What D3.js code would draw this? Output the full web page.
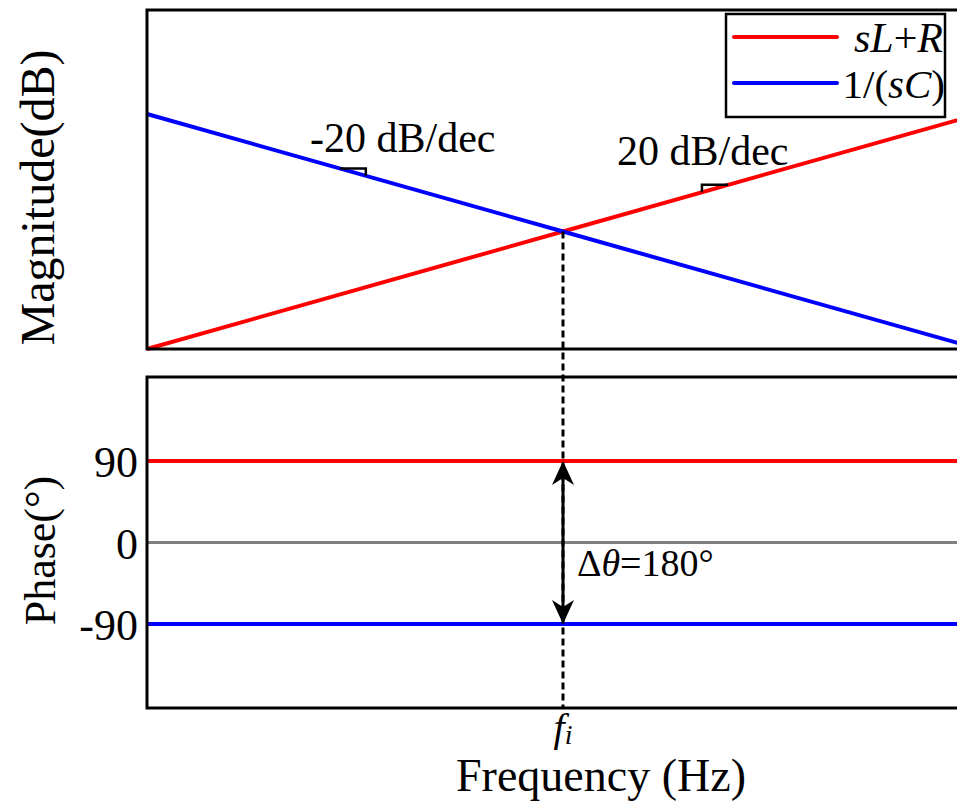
<!DOCTYPE html>
<html>
<head>
<meta charset="utf-8">
<script src="https://cdn.jsdelivr.net/npm/d3@7"></script>
<style>
  body { margin: 0; background: #fff; }
  svg { display: block; font-family: "Liberation Serif", "Times New Roman", serif; }
</style>
</head>
<body>
<svg width="957" height="808"></svg>
<script>
// frequency relative to the crossing frequency f_i
const freqs = [0.1, 1, 10];
const magRL = [-20, 0, 20];   // sL+R, dB
const magC = [20, 0, -20];    // 1/(sC), dB
const phaseRL = [90, 90, 90];
const phaseC = [-90, -90, -90];
const phaseZero = [0, 0, 0];
const phaseTicks = [90, 0, -90];
const seriesNames = ["sL+R", "1/(sC)"];
const seriesColors = ["#ff0000", "#0000ff"];

const svg = d3.select("svg");
const width = +svg.attr("width");
const height = +svg.attr("height");

const left = 147;
const right = 979; // plot runs past the window edge
const magTop = 10, magBottom = 349;
const phTop = 377, phBottom = 708;

const x = d3.scaleLog().domain([0.1, 10]).range([left, right]);
const yMag = d3.scaleLinear().domain([-20, 37.7]).range([magBottom, magTop]);
const yPh = d3.scaleLinear().domain([-183, 183]).range([phBottom, phTop]);

const line = (yScale) => d3.line()
  .x((d) => x(d[0]))
  .y((d) => yScale(d[1]));

// ---- magnitude panel
const mag = svg.append("g");

mag.append("path")
  .datum(d3.zip(freqs, magRL))
  .attr("fill", "none")
  .attr("stroke", seriesColors[0])
  .attr("stroke-width", 4)
  .attr("d", line(yMag));

mag.append("path")
  .datum(d3.zip(freqs, magC))
  .attr("fill", "none")
  .attr("stroke", seriesColors[1])
  .attr("stroke-width", 4)
  .attr("d", line(yMag));

// slope marks
const slopeAt = (f, vals) => {
  const s = d3.scaleLog().domain([freqs[0], freqs[2]]).range([vals[0], vals[2]]);
  return s(f);
};
// blue: horizontal then down on the right
const b0 = Math.pow(10, -0.536), b1 = Math.pow(10, -0.474);
mag.append("path")
  .attr("fill", "none").attr("stroke", "#000").attr("stroke-width", 2.5)
  .attr("d", `M${x(b0)},${yMag(slopeAt(b0, magC))}H${x(b1)}V${yMag(slopeAt(b1, magC))}`);
// red: up on the left then horizontal
const r0 = Math.pow(10, 0.334), r1 = Math.pow(10, 0.397);
mag.append("path")
  .attr("fill", "none").attr("stroke", "#000").attr("stroke-width", 2.5)
  .attr("d", `M${x(r0)},${yMag(slopeAt(r0, magRL))}V${yMag(slopeAt(r1, magRL))}H${x(r1)}`);

mag.append("text").attr("x", 310).attr("y", 152)
  .attr("font-size", 42).text("-20 dB/dec");
mag.append("text").attr("x", 617).attr("y", 165)
  .attr("font-size", 42).text("20 dB/dec");

mag.append("rect")
  .attr("x", left).attr("y", magTop)
  .attr("width", right - left).attr("height", magBottom - magTop)
  .attr("fill", "none").attr("stroke", "#000").attr("stroke-width", 3);

// legend
const leg = svg.append("g");
leg.append("rect").attr("x", 726).attr("y", 14).attr("width", 219).attr("height", 103)
  .attr("fill", "#fff").attr("stroke", "#000").attr("stroke-width", 2.5);
seriesNames.forEach((n, i) => {
  const yy = 37 + i * 46;
  leg.append("line").attr("x1", 734).attr("x2", 837).attr("y1", yy).attr("y2", yy)
    .attr("stroke", seriesColors[i]).attr("stroke-width", 4).attr("stroke-linecap", "round");
});
const t1 = leg.append("text").attr("x", 943).attr("y", 52).attr("text-anchor", "end").attr("font-size", 42);
t1.append("tspan").attr("font-style", "italic").text("sL");
t1.append("tspan").text("+");
t1.append("tspan").attr("font-style", "italic").text("R");
const t2 = leg.append("text").attr("x", 945).attr("y", 98).attr("text-anchor", "end").attr("font-size", 41);
t2.append("tspan").text("1/(");
t2.append("tspan").attr("font-style", "italic").text("sC");
t2.append("tspan").text(")");

svg.append("text")
  .attr("transform", `translate(54,${(magTop + magBottom) / 2 + 18}) rotate(-90)`)
  .attr("text-anchor", "middle").attr("font-size", 48).text("Magnitude(dB)");

// ---- phase panel
const ph = svg.append("g");
ph.append("path").datum(d3.zip(freqs, phaseZero))
  .attr("fill", "none").attr("stroke", "#808080").attr("stroke-width", 3)
  .attr("d", line(yPh));
ph.append("path").datum(d3.zip(freqs, phaseRL))
  .attr("fill", "none").attr("stroke", seriesColors[0]).attr("stroke-width", 4)
  .attr("d", line(yPh));
ph.append("path").datum(d3.zip(freqs, phaseC))
  .attr("fill", "none").attr("stroke", seriesColors[1]).attr("stroke-width", 4)
  .attr("d", line(yPh));

ph.selectAll("text.tick").data(phaseTicks).enter().append("text")
  .attr("class", "tick")
  .attr("x", 138).attr("y", (d) => yPh(d) + 16)
  .attr("text-anchor", "end").attr("font-size", 44)
  .text((d) => d);

ph.append("rect")
  .attr("x", left).attr("y", phTop)
  .attr("width", right - left).attr("height", phBottom - phTop)
  .attr("fill", "none").attr("stroke", "#000").attr("stroke-width", 3);

svg.append("text")
  .attr("transform", `translate(55,${(phTop + phBottom) / 2 + 8}) rotate(-90)`)
  .attr("text-anchor", "middle").attr("font-size", 44).text("Phase(°)");

// ---- crossing frequency marker
const fi = freqs[1];
svg.append("line")
  .attr("x1", x(fi)).attr("x2", x(fi))
  .attr("y1", yMag(magRL[1])).attr("y2", phBottom)
  .attr("stroke", "#000").attr("stroke-width", 3).attr("stroke-dasharray", "7,4");

// double arrow between the two phase lines
const ax = x(fi);
const yA = yPh(phaseRL[1]), yB = yPh(phaseC[1]);
svg.append("line").attr("x1", ax).attr("x2", ax).attr("y1", yA + 10).attr("y2", yB - 10)
  .attr("stroke", "#000").attr("stroke-width", 3);
const head = (tipY, dir) => {
  const L = 24, W = 11, notch = 17;
  return `M${ax},${tipY}L${ax - W},${tipY + dir * L}L${ax},${tipY + dir * notch}L${ax + W},${tipY + dir * L}Z`;
};
svg.append("path").attr("d", head(yA, 1)).attr("fill", "#000");
svg.append("path").attr("d", head(yB, -1)).attr("fill", "#000");

const dt = svg.append("text").attr("x", 577).attr("y", 576).attr("font-size", 38);
dt.append("tspan").text("Δ");
dt.append("tspan").attr("font-style", "italic").text("θ");
dt.append("tspan").text("=180°");

// x axis labels
const fl = svg.append("text").attr("x", ax).attr("y", 741).attr("text-anchor", "middle").attr("font-size", 40);
fl.append("tspan").attr("font-style", "italic").text("f");
fl.append("tspan").attr("font-style", "italic").attr("font-size", 28).attr("dy", 3).text("i");

svg.append("text").attr("x", 601).attr("y", 791).attr("text-anchor", "middle")
  .attr("font-size", 46).text("Frequency (Hz)");
</script>
</body>
</html>
